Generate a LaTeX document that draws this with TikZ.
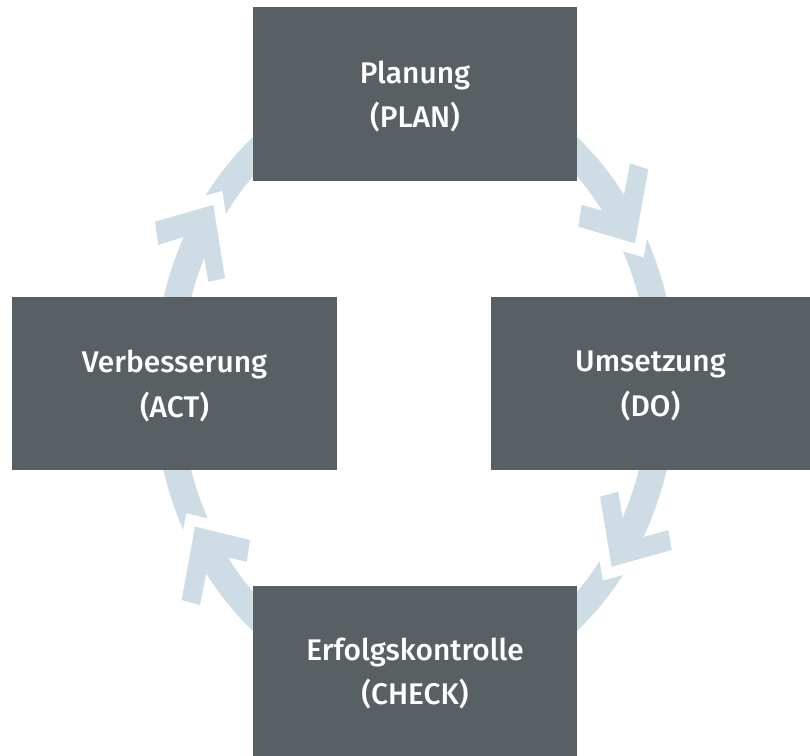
\documentclass[tikz,border=0pt]{standalone}
\usepackage{fontspec}
\setmainfont{Fira Sans}[UprightFont=* Medium]
\definecolor{boxgray}{HTML}{596063}
\definecolor{ringblue}{HTML}{CEDCE5}
\tikzset{
  phase/.style={fill=boxgray, text=white, align=center, inner sep=0pt,
    font=\fontsize{25.5}{38}\selectfont, text depth=0pt},
  ring/.style={draw=ringblue, line width=0.81cm},
  gap/.style={draw=white, line width=0.66cm, line join=miter},
  head/.style={fill=ringblue}
}
\begin{document}
\begin{tikzpicture}[x=0.03cm, y=-0.03cm]
    \useasboundingbox (0,0) rectangle (810,756);

    % Ring
    \coordinate (hub) at (415,384);
    \draw[ring] (hub) ellipse[x radius=248, y radius=301];

    % Gaps in front of the arrow heads
    \draw[gap] (648.3,169.3) -- (635,243.3) -- (578.3,226.7);
    \draw[gap] (671.7,550) -- (611.7,566.7) -- (600,496.7);
    \draw[gap] (181.7,600) -- (195,526.7) -- (250,540);
    \draw[gap] (155,221.7) -- (213.3,205) -- (225,278.3);

    % Arrow heads
    \fill[head] (630,163.3) -- (648.3,169.3) -- (635,243.3) -- (578.3,226.7)
        -- (581.7,205) -- (620.1,215.6) -- cycle;
    \fill[head] (668.3,530) -- (671.7,550) -- (611.7,566.7) -- (600,496.7)
        -- (618.3,491.7) -- (626.6,541.7) -- cycle;
    \fill[head] (200,605) -- (181.7,600) -- (195,526.7) -- (250,540)
        -- (246.7,561.7) -- (210,553.4) -- cycle;
    \fill[head] (158.3,245) -- (155,221.7) -- (213.3,205) -- (225,278.3)
        -- (208.3,281.7) -- (199.9,231.7) -- cycle;

    % Phases
    \node[phase, minimum width=9.72cm, minimum height=5.22cm] (plan) at (415,94) {Planung\\(PLAN)};
    \node[phase, minimum width=9.57cm, minimum height=5.19cm] (do) at (650.5,383.5) {Umsetzung\\(DO)};
    \node[phase, minimum width=9.72cm, minimum height=5.1cm] (check) at (415,671) {Erfolgskontrolle\\(CHECK)};
    \node[phase, minimum width=9.75cm, minimum height=5.19cm] (act) at (174.5,383.5) {Verbesserung\\(ACT)};
\end{tikzpicture}
\end{document}
